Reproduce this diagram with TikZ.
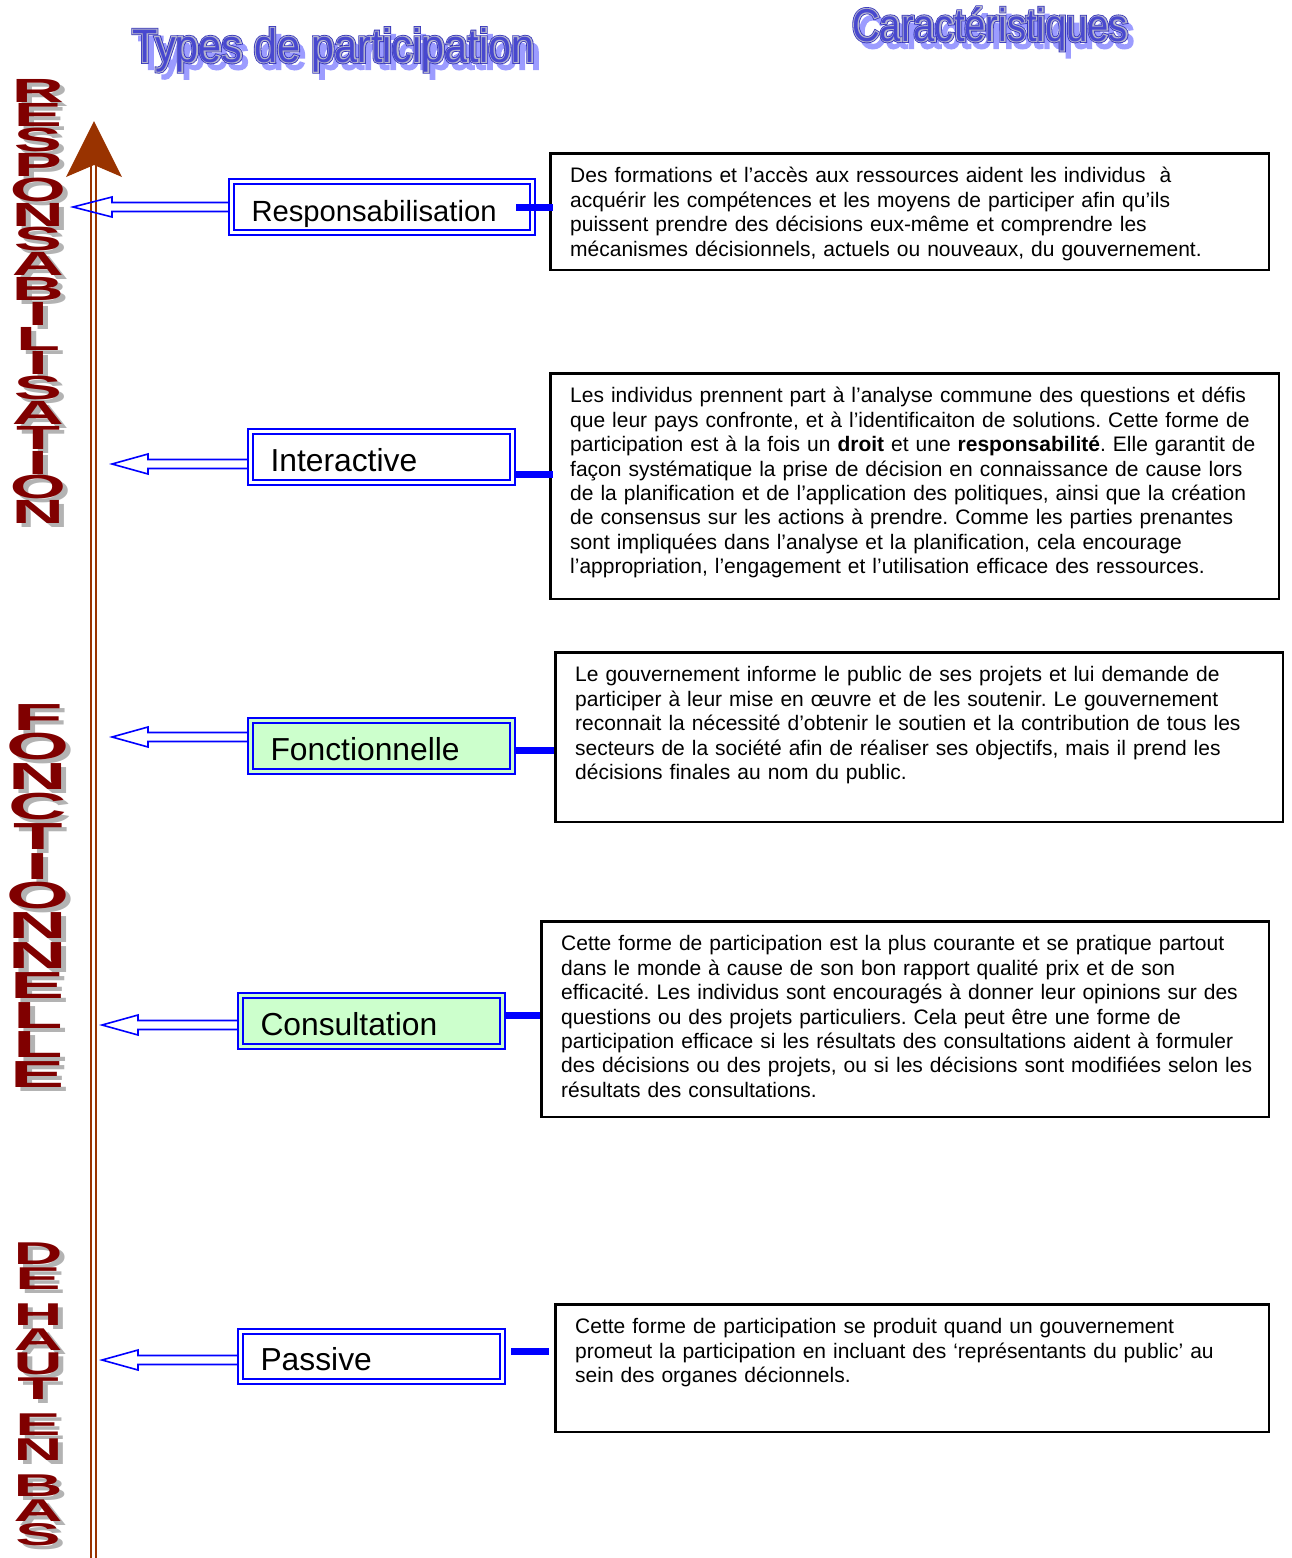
\documentclass[tikz,border=0pt]{standalone}
\usepackage{fontspec}
\setmainfont{Liberation Sans}
\usetikzlibrary{calc}
\frenchspacing
\newfontfamily\vfont[FakeStretch=2.15]{Liberation Sans Bold}
\newfontfamily\tfA[FakeStretch=0.88]{Liberation Sans}
\newfontfamily\tfAm[FakeStretch=0.88,FakeBold=4.5]{Liberation Sans}
\newfontfamily\tfAo[FakeStretch=0.88,FakeBold=8]{Liberation Sans}
\newfontfamily\tfB[FakeStretch=0.83]{Liberation Sans}
\newfontfamily\tfBm[FakeStretch=0.83,FakeBold=4.5]{Liberation Sans}
\newfontfamily\tfBo[FakeStretch=0.83,FakeBold=8]{Liberation Sans}
\definecolor{vred}{HTML}{800000}
\definecolor{vshad}{HTML}{B3B3B3}
\definecolor{brownc}{HTML}{993300}
\definecolor{tblue}{HTML}{3434BC}
\definecolor{tcore}{HTML}{4848CF}
\definecolor{tmid}{HTML}{B4B4CC}
\definecolor{tshad}{HTML}{9C9CFF}
\definecolor{lgreen}{HTML}{CCFFCC}
\begin{document}
\begin{tikzpicture}[x=1pt,y=-1pt,
  vlet/.style={anchor=base, inner sep=0pt, text=vred},
  vsh/.style={anchor=base, inner sep=0pt, text=vshad},
  ttl/.style={anchor=base west, inner sep=0pt},
  lbox/.style={draw=blue, line width=2pt, double=white, double distance=3pt,
    outer sep=3.5pt, inner xsep=20pt, inner ysep=0pt, minimum height=51pt,
    align=left, text height=28pt, text depth=0pt,
    font=\fontsize{31.8}{31.8}\selectfont},
  gbox/.style={lbox, fill=lgreen, double=lgreen},
  dbox/.style={draw=black, line width=2.5pt, inner sep=0pt},
  dtext/.style={anchor=north west, inner sep=0pt, align=left, text width=740pt,
    font=\fontsize{21}{24.45}\selectfont},
  bar/.style={draw=blue, line width=7pt},
  harr/.style={draw=blue, line width=1.6pt, line join=miter},
]
\useasboundingbox (0,0) rectangle (1291,1558);

% titles
\node[ttl, text=tshad, font={\tfAm\fontsize{47}{47}\selectfont}] (t1s) at (138,69) {Types de participation};
\node[ttl, text=tblue, font={\tfAo\fontsize{47}{47}\selectfont}] (t1o) at (132,62) {Types de participation};
\node[ttl, text=tmid, font={\tfAm\fontsize{47}{47}\selectfont}] (t1m) at (132,62) {Types de participation};
\node[ttl, text=tcore, font={\tfA\fontsize{47}{47}\selectfont}] (t1c) at (132,62) {Types de participation};
\node[ttl, text=tshad, font={\tfBm\fontsize{46}{46}\selectfont}] (t2s) at (858,48) {Caractéristiques};
\node[ttl, text=tblue, font={\tfBo\fontsize{46}{46}\selectfont}] (t2o) at (852,41) {Caractéristiques};
\node[ttl, text=tmid, font={\tfBm\fontsize{46}{46}\selectfont}] (t2m) at (852,41) {Caractéristiques};
\node[ttl, text=tcore, font={\tfB\fontsize{46}{46}\selectfont}] (t2c) at (852,41) {Caractéristiques};

% vertical words
\foreach \L [count=\i from 0] in {R,E,S,P,O,N,S,A,B,I,L,I,S,A,T,I,O,N} {
  \node[vsh, font={\vfont\fontsize{33.5}{33.5}\selectfont}] (rs\i) at (43,{106+24.8*\i}) {\L};
  \node[vlet, font={\vfont\fontsize{33.5}{33.5}\selectfont}] (r\i) at (38,{102+24.8*\i}) {\L};
}
\foreach \L [count=\i from 0] in {F,O,N,C,T,I,O,N,N,E,L,L,E} {
  \node[vsh, font={\vfont\fontsize{37.7}{37.7}\selectfont}] (fs\i) at (43,{734+29.8*\i}) {\L};
  \node[vlet, font={\vfont\fontsize{37.7}{37.7}\selectfont}] (f\i) at (38,{730+29.8*\i}) {\L};
}
\foreach \L/\y [count=\i from 0] in {D/1242,E/1266.5,H/1303,A/1327.5,U/1352,T/1376.5,E/1413,N/1437.5,B/1474,A/1498.5,S/1523} {
  \node[vsh, font={\vfont\fontsize{31.5}{31.5}\selectfont}] (hs\i) at (43,{\y+26.5}) {\L};
  \node[vlet, font={\vfont\fontsize{31.5}{31.5}\selectfont}] (h\i) at (38,{\y+22.5}) {\L};
}

% vertical axis arrow
\coordinate (axtop) at (93.5,160);
\coordinate (axbot) at (93.5,1560);
\coordinate (axtip) at (94,121);
\draw[draw=brownc, line width=2pt, double=white, double distance=3pt] (axbot) -- (axtop);
\fill[brownc] (axtip) -- ($(axtip)+(28,56)$) -- ($(axtip)+(0,44)$) -- ($(axtip)+(-28,56)$) -- cycle;

% label boxes
\node[lbox, text width=261pt, font=\fontsize{29.2}{29.2}\selectfont] (b1) at (382,207) {Responsabilisation};
\node[lbox, text width=222pt] (b2) at (381.5,457) {Interactive};
\node[gbox, text width=222pt] (b3) at (381.5,746) {Fonctionnelle};
\node[gbox, text width=222pt] (b4) at (371.5,1021) {Consultation};
\node[lbox, text width=222pt, minimum height=50pt] (b5) at (371.5,1356.5) {Passive};

% description boxes
\node[dbox, minimum width=718.5pt, minimum height=116.5pt] (d1) at (909.5,211.5) {};
\node[dbox, minimum width=728.5pt, minimum height=225.5pt] (d2) at (914.5,486) {};
\node[dbox, minimum width=727.5pt, minimum height=169.5pt] (d3) at (919,737) {};
\node[dbox, minimum width=727.5pt, minimum height=195.5pt] (d4) at (905,1019) {};
\node[dbox, minimum width=713.5pt, minimum height=127.5pt] (d5) at (912,1368) {};

\node[dtext] (x1) at ($(d1.north west)+(21,8.5)$) {\rule{0pt}{22pt}Des formations et l’accès aux ressources aident les individus\ \ à\\
acquérir les compétences et les moyens de participer afin qu’ils\\
puissent prendre des décisions eux-même et comprendre les\\
mécanismes décisionnels, actuels ou nouveaux, du gouvernement.};
\node[dtext] (x2) at ($(d2.north west)+(21,8.5)$) {\rule{0pt}{22pt}Les individus prennent part à l’analyse commune des questions et défis\\
que leur pays confronte, et à l’identificaiton de solutions. Cette forme de\\
participation est à la fois un \textbf{droit} et une \textbf{responsabilité}. Elle garantit de\\
façon systématique la prise de décision en connaissance de cause lors\\
de la planification et de l’application des politiques, ainsi que la création\\
de consensus sur les actions à prendre. Comme les parties prenantes\\
sont impliquées dans l’analyse et la planification, cela encourage\\
l’appropriation, l’engagement et l’utilisation efficace des ressources.};
\node[dtext] (x3) at ($(d3.north west)+(21,8.5)$) {\rule{0pt}{22pt}Le gouvernement informe le public de ses projets et lui demande de\\
participer à leur mise en œuvre et de les soutenir. Le gouvernement\\
reconnait la nécessité d’obtenir le soutien et la contribution de tous les\\
secteurs de la société afin de réaliser ses objectifs, mais il prend les\\
décisions finales au nom du public.};
\node[dtext] (x4) at ($(d4.north west)+(21,8.5)$) {\rule{0pt}{22pt}Cette forme de participation est la plus courante et se pratique partout\\
dans le monde à cause de son bon rapport qualité prix et de son\\
efficacité. Les individus sont encouragés à donner leur opinions sur des\\
questions ou des projets particuliers. Cela peut être une forme de\\
participation efficace si les résultats des consultations aident à formuler\\
des décisions ou des projets, ou si les décisions sont modifiées selon les\\
résultats des consultations.};
\node[dtext] (x5) at ($(d5.north west)+(21,8.5)$) {\rule{0pt}{22pt}Cette forme de participation se produit quand un gouvernement\\
promeut la participation en incluant des ‘représentants du public’ au\\
sein des organes décionnels.};

% blue connector bars
\coordinate (c1) at ([xshift=-20pt]b1.east);
\coordinate (c2) at ([yshift=-17pt]b2.east);
\coordinate (c3) at ([yshift=-4pt]b3.east);
\coordinate (c4) at ([yshift=6pt]b4.east);
\coordinate (c5) at ([xshift=5pt,yshift=5.5pt]b5.east);
\coordinate (e5) at ([xshift=-5pt]d5.west);
\draw[bar] (c1) -- ([xshift=4pt]c1 -| d1.west);
\draw[bar] (c2) -- ([xshift=4pt]c2 -| d2.west);
\draw[bar] (c3) -- (c3 -| d3.west);
\draw[bar] (c4) -- (c4 -| d4.west);
\draw[bar] (c5) -- (c5 -| e5);

% hollow arrows to the axis
\coordinate (a1) at (73,207);
\coordinate (a2) at (112,464);
\coordinate (a3) at (112,737);
\coordinate (a4) at (102,1025);
\coordinate (a5) at (102,1360);
\foreach \k/\hl in {1/39,2/36,3/36,4/36,5/36} {
  \draw[harr] ($(b\k.west |- a\k)+(0,4.5)$) -- ($(a\k)+(\hl,4.5)$) -- ($(a\k)+(\hl,10)$) -- (a\k)
     -- ($(a\k)+(\hl,-10)$) -- ($(a\k)+(\hl,-4.5)$) -- ($(b\k.west |- a\k)+(0,-4.5)$);
}
\end{tikzpicture}
\end{document}
